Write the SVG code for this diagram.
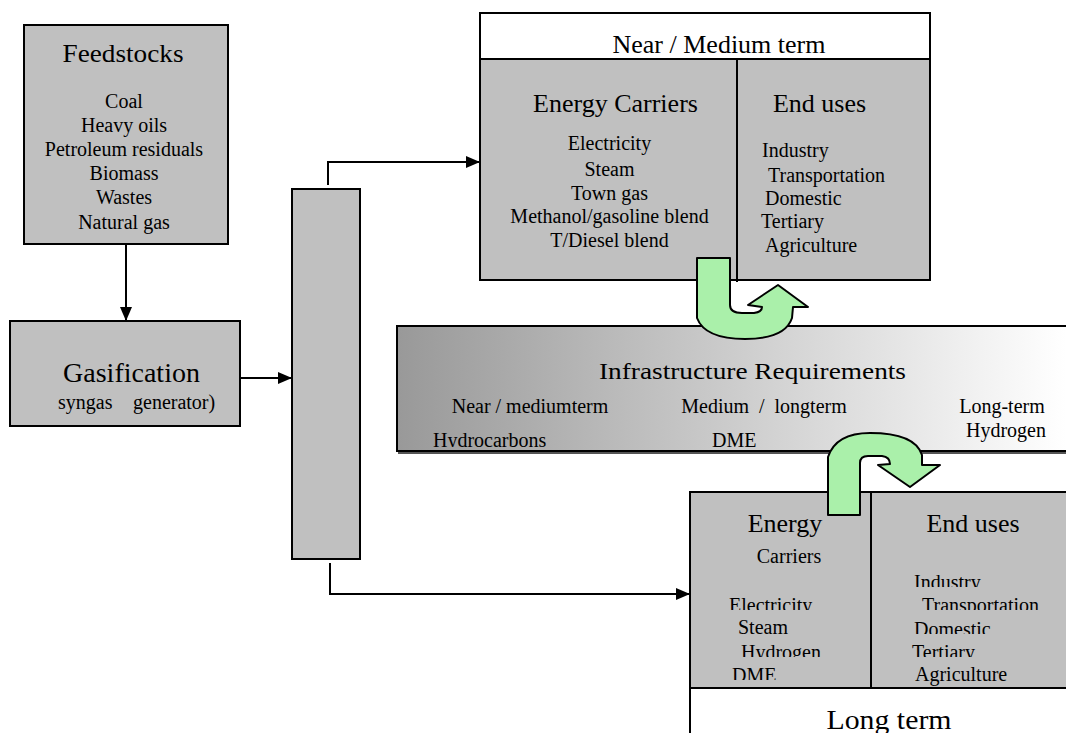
<svg xmlns="http://www.w3.org/2000/svg" width="1066" height="733" viewBox="0 0 1066 733">
<defs>
<style>
.box{fill:#c0c0c0;stroke:#000;stroke-width:2}
.wbox{fill:#fff;stroke:#000;stroke-width:2}
.t{font-family:"Liberation Serif","Times New Roman",serif;fill:#000}
.h{font-size:26px}
.s{font-size:20px}
.m{text-anchor:middle}
.conn{fill:none;stroke:#000;stroke-width:2}
.green{fill:#aaf0aa;stroke:#000;stroke-width:2;stroke-linejoin:round}
</style>
<marker id="ah" markerWidth="14" markerHeight="12" refX="14" refY="6" orient="auto" markerUnits="userSpaceOnUse">
<path d="M0,0 L14,6 L0,12 Z" fill="#000"/>
</marker>
<linearGradient id="infraGrad" gradientUnits="userSpaceOnUse" x1="398" y1="0" x2="1066" y2="0">
<stop offset="0" stop-color="#999999"/>
<stop offset="1" stop-color="#ffffff"/>
</linearGradient>
<clipPath id="c447" clipPathUnits="userSpaceOnUse"><rect x="0" y="0" width="1066" height="447"/></clipPath>
<clipPath id="c587" clipPathUnits="userSpaceOnUse"><rect x="0" y="0" width="1066" height="587"/></clipPath>
<clipPath id="c610" clipPathUnits="userSpaceOnUse"><rect x="0" y="0" width="1066" height="610"/></clipPath>
<clipPath id="c634" clipPathUnits="userSpaceOnUse"><rect x="0" y="0" width="1066" height="634"/></clipPath>
<clipPath id="c657" clipPathUnits="userSpaceOnUse"><rect x="0" y="0" width="1066" height="657"/></clipPath>
<clipPath id="c680" clipPathUnits="userSpaceOnUse"><rect x="0" y="0" width="1066" height="680"/></clipPath>
</defs>
<rect width="1066" height="733" fill="#fff"/>

<g id="connectors">
<path class="conn" d="M126,244 L126,321" marker-end="url(#ah)"/>
<path class="conn" d="M240,378 L292,378" marker-end="url(#ah)"/>
<path class="conn" d="M328,185 L328,162 L480,162" marker-end="url(#ah)"/>
<path class="conn" d="M330,563 L330,594 L690,594" marker-end="url(#ah)"/>
</g>

<g id="feedstocks">
<rect class="box" x="24" y="25" width="204" height="219"/>
<text class="t m" x="123" y="62" font-size="25" textLength="121" lengthAdjust="spacingAndGlyphs">Feedstocks</text>
<text class="t s m" x="124" y="108">Coal</text>
<text class="t s m" x="124" y="132">Heavy oils</text>
<text class="t s m" x="124" y="156">Petroleum residuals</text>
<text class="t s m" x="124" y="180">Biomass</text>
<text class="t s m" x="124" y="204">Wastes</text>
<text class="t s m" x="124" y="229">Natural gas</text>
</g>

<g id="gasification">
<rect class="box" x="10" y="321" width="230" height="105"/>
<text class="t m" x="131.5" y="382" font-size="28">Gasification</text>
<text class="t s" x="58" y="409">syngas</text>
<text class="t s" x="133" y="409">generator)</text>
</g>

<g id="splitter">
<rect class="box" x="292" y="189" width="68" height="370"/>
</g>

<g id="near-medium-term">
<rect class="wbox" x="480" y="13" width="450" height="46"/>
<rect class="box" x="480" y="59" width="450" height="221"/>
<line x1="737" y1="59" x2="737" y2="282" stroke="#000" stroke-width="2"/>
<text class="t h m" x="719" y="53">Near / Medium term</text>
<text class="t h m" x="615.5" y="112">Energy Carriers</text>
<text class="t h m" x="819.5" y="112">End uses</text>
<text class="t s m" x="609.5" y="150">Electricity</text>
<text class="t s m" x="609.5" y="176">Steam</text>
<text class="t s m" x="609.5" y="200">Town gas</text>
<text class="t s m" x="609.5" y="223">Methanol/gasoline blend</text>
<text class="t s m" x="609.5" y="247">T/Diesel blend</text>
<text class="t s" x="762" y="157">Industry</text>
<text class="t s" x="768" y="182">Transportation</text>
<text class="t s" x="765" y="205">Domestic</text>
<text class="t s" x="761" y="228">Tertiary</text>
<text class="t s" x="765" y="252">Agriculture</text>
</g>

<g id="infrastructure">
<rect x="398" y="329" width="680" height="125" fill="#555"/>
<rect x="397" y="326" width="680" height="125" fill="url(#infraGrad)" stroke="#000" stroke-width="2"/>
<text class="t m" x="752.5" y="379" font-size="24" textLength="307" lengthAdjust="spacingAndGlyphs">Infrastructure Requirements</text>
<text class="t s m" x="530" y="413">Near / mediumterm</text>
<text class="t s m" x="764" y="413" xml:space="preserve">Medium  /  longterm</text>
<text class="t s m" x="1002" y="413">Long-term</text>
<text class="t s m" x="1006" y="437">Hydrogen</text>
<text class="t s" x="433" y="447" clip-path="url(#c447)">Hydrocarbons</text>
<text class="t s" x="712" y="447" clip-path="url(#c447)">DME</text>
</g>

<g id="long-term">
<rect class="wbox" x="690" y="688" width="400" height="60"/>
<rect class="box" x="690" y="492" width="400" height="196"/>
<line x1="871" y1="492" x2="871" y2="688" stroke="#000" stroke-width="2"/>
<text class="t m" x="889" y="729" font-size="28" textLength="125" lengthAdjust="spacingAndGlyphs">Long term</text>
<text class="t h m" x="785" y="532">Energy</text>
<text class="t s m" x="789" y="563">Carriers</text>
<text class="t h m" x="973" y="532">End uses</text>
<text class="t s" x="729" y="612" clip-path="url(#c610)">Electricity</text>
<text class="t s" x="738" y="634">Steam</text>
<text class="t s" x="741" y="659" clip-path="url(#c657)">Hydrogen</text>
<text class="t s" x="732" y="682" clip-path="url(#c680)">DME</text>
<text class="t s" x="914" y="589" clip-path="url(#c587)">Industry</text>
<text class="t s" x="922" y="612" clip-path="url(#c610)">Transportation</text>
<text class="t s" x="914" y="636" clip-path="url(#c634)">Domestic</text>
<text class="t s" x="912" y="659" clip-path="url(#c657)">Tertiary</text>
<text class="t s" x="915" y="681">Agriculture</text>
</g>

<g id="arrow-upper">
<path class="green" d="M697,258 L730,258 L730,305 Q730,313 742,313 L754,313 Q762,312 762,307 L748,305 L778,285 L808,307 L793,307 L792,318 Q785,339 745,339 Q705,339 697,318 Z"/>
</g>
<g id="arrow-lower">
<path class="green" d="M828,515 L860,515 L860,463 Q860,456 868,456 L882,456 Q890,457 890,464 L878,465 L910,487 L940,465 L922,465 L922,455 Q915,433 870,433 Q836,433 828,457 Z"/>
</g>
</svg>
